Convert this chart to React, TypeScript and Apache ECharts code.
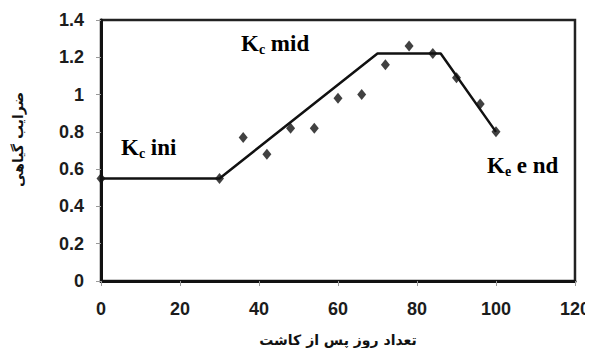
import React, { useEffect, useRef } from "react";
import * as echarts from "echarts";

// Crop coefficient curve (FAO-56 style segments) and measured Kc values
const curveDays = [0, 30, 70, 86, 100];
const curveKc = [0.55, 0.55, 1.22, 1.22, 0.8];

const obsDays = [0, 30, 36, 42, 48, 54, 60, 66, 72, 78, 84, 90, 96, 100];
const obsKc = [0.55, 0.55, 0.77, 0.68, 0.82, 0.82, 0.98, 1.0, 1.16, 1.26, 1.22, 1.09, 0.95, 0.8];

const xTicks = [0, 20, 40, 60, 80, 100, 120];
const yTicks = [0, 0.2, 0.4, 0.6, 0.8, 1, 1.2, 1.4];

const xTitle = "تعداد روز پس از کاشت";
const yTitle = "ضرایب گیاهی";

const stageLabels = [
  { k: "K", sub: "c", rest: " ini", left: 121, top: 135 },
  { k: "K", sub: "c", rest: " mid", left: 241, top: 31 },
  { k: "K", sub: "e", rest: " e nd", left: 487, top: 153 },
];

export default function App() {
  const ref = useRef<HTMLDivElement>(null);

  useEffect(() => {
    if (!ref.current) return;
    const chart = echarts.init(ref.current, undefined, { renderer: "svg" });
    const labelFont = {
      fontFamily: "Liberation Sans, Arial, sans-serif",
      fontWeight: "bold" as const,
      fontSize: 18,
      color: "#1c1c1c",
    };
    const serif = "Liberation Serif, Times New Roman, serif";
    const big = { fontFamily: serif, fontWeight: "bold", fontSize: 23, color: "#1a1a1a", lineHeight: 28 };

    chart.setOption({
      animation: false,
      backgroundColor: "#ffffff",
      grid: {
        left: 101,
        right: 15,
        top: 20,
        bottom: 75,
        show: true,
        borderColor: "#222",
        borderWidth: 2.5,
      },
      xAxis: {
        type: "value",
        min: 0,
        max: 120,
        interval: 20,
        name: xTitle,
        nameLocation: "middle",
        nameGap: 52,
        nameTextStyle: {
          fontFamily: "DejaVu Sans, sans-serif",
          fontWeight: "bold",
          fontSize: 14,
          color: "#111",
        },
        axisLine: { show: true, lineStyle: { color: "#111", width: 3 } },
        axisTick: { show: true, length: 5, lineStyle: { color: "#999", width: 1 } },
        axisLabel: {
          ...labelFont,
          margin: 19,
          formatter: (v: number) => (xTicks.includes(v) ? String(v) : ""),
        },
        splitLine: { show: false },
      },
      yAxis: {
        type: "value",
        min: 0,
        max: 1.4,
        interval: 0.2,
        axisLine: { show: true, lineStyle: { color: "#111", width: 3 } },
        axisTick: { show: true, length: 5, lineStyle: { color: "#999", width: 1 } },
        axisLabel: {
          ...labelFont,
          margin: 17,
          formatter: (v: number) => {
            const t = yTicks.find((y) => Math.abs(y - v) < 1e-6);
            return t === undefined ? "" : String(Math.round(t * 10) / 10);
          },
        },
        splitLine: { show: false },
      },
      series: [
        {
          type: "line",
          data: curveDays.map((d, i) => [d, curveKc[i]]),
          showSymbol: false,
          lineStyle: { color: "#111", width: 2.5 },
          z: 2,
        },
        {
          type: "scatter",
          data: obsDays.map((d, i) => [d, obsKc[i]]),
          symbol: "diamond",
          symbolSize: [9, 11],
          itemStyle: { color: "#111" },
          z: 3,
        },
      ],
      graphic: [
        {
          type: "text",
          left: 11,
          top: 92,
          rotation: Math.PI / 2,
          style: {
            text: yTitle,
            fontFamily: "DejaVu Sans, sans-serif",
            fontWeight: "bold",
            fontSize: 14,
            fill: "#111",
          },
        },
        ...stageLabels.map((s) => ({
          type: "text",
          left: s.left,
          top: s.top,
          style: {
            text: `{k|${s.k}}{s|${s.sub}}{r|${s.rest}}`,
            rich: {
              k: big,
              s: {
                fontFamily: serif,
                fontWeight: "bold",
                fontSize: 14,
                color: "#1a1a1a",
                lineHeight: 28,
                padding: [11, 0, 0, 0],
              },
              r: big,
            },
          },
        })),
      ],
    });

    return () => chart.dispose();
  }, []);

  return <div ref={ref} style={{ width: 593, height: 356, margin: -8 }} />;
}
